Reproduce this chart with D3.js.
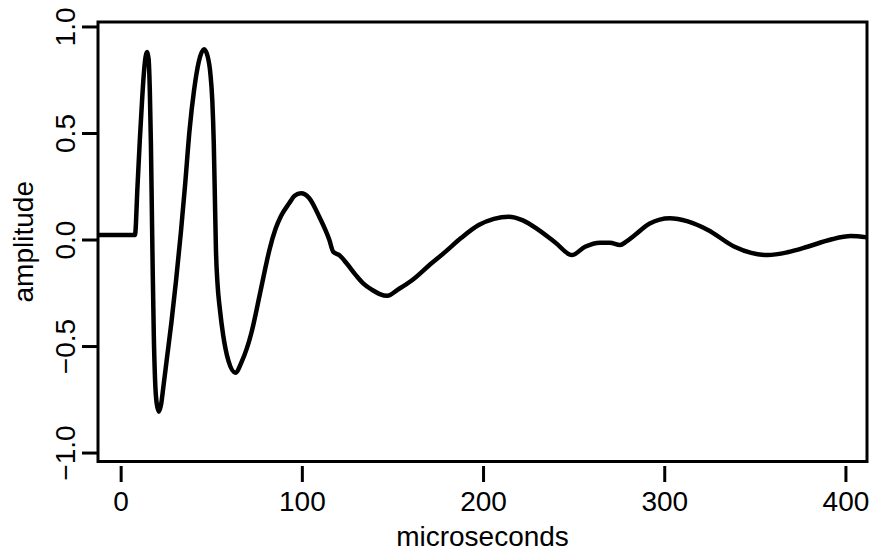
<html>
  <meta charset="utf-8" />
  <script src="https://d3js.org/d3.v7.min.js"></script>
  <style>
    body { margin: 0; background: #fff; }
    text { font-family: "Liberation Sans", Arial, Helvetica, sans-serif; fill: #000; }
  </style>
  <body>
    <svg width="872" height="552" id="svg_wave"></svg>
  </body>
  <script>
    // values
    const timeUs = [
      -12.5, 7.9, 9.3, 10.6, 11.8, 12.9, 13.8, 14.6, 15.4, 16.1, 16.7, 17.2,
      17.7, 18.3, 19.0, 19.9, 21.1, 22.4, 23.6, 25.5, 28, 30.6, 33.2, 35.5,
      38.1, 40.5, 43, 46.0, 48, 49.5, 50.6, 51.4, 52, 52.6, 53.4, 54.8, 56.6,
      59.5, 63.3, 67, 72.1, 76.5, 80, 82.1, 85.5, 88.5, 93, 96, 99.5,
      104, 109.6, 115.1, 117.3, 120.6, 125, 129.8, 134, 138.9, 143, 147.2,
      153, 161, 170, 179.3, 188, 197.6, 206, 214.1, 222, 230.6, 240, 249,
      256.3, 264.6, 270, 275.6, 279, 283.8, 292, 303, 313, 324.1, 338.8, 348,
      357, 368, 379.1, 392, 403, 411.9
    ];
    const amplitude = [
      0.021, 0.021, 0.25, 0.47, 0.65, 0.79, 0.86, 0.88, 0.85, 0.7, 0.45, 0.15,
      -0.15, -0.45, -0.66, -0.77, -0.808, -0.77, -0.69, -0.56, -0.39, -0.19, 0.03, 0.25,
      0.52, 0.7, 0.83, 0.893, 0.86, 0.78, 0.65, 0.45, 0.2, -0.05, -0.2, -0.33, -0.45,
      -0.57, -0.625, -0.57, -0.44, -0.27, -0.128, -0.049, 0.05, 0.11, 0.17, 0.205, 0.217,
      0.195, 0.107, 0.0, -0.057, -0.073, -0.115, -0.167, -0.207, -0.237, -0.256, -0.264,
      -0.235, -0.19, -0.123, -0.057, 0.008, 0.068, 0.097, 0.107, 0.09, 0.045, -0.015, -0.073,
      -0.034, -0.015, -0.015, -0.026, -0.01, 0.021, 0.075, 0.1, 0.085, 0.045, -0.034, -0.063,
      -0.073, -0.06, -0.034, 0.0, 0.016, 0.01
    ];
    const xTicks = [0, 100, 200, 300, 400];
    const yTicks = [-1.0, -0.5, 0.0, 0.5, 1.0];

    const box = { left: 98, right: 867, top: 22, bottom: 461.5 };

    const svg = d3.select("svg");

    const x = d3.scaleLinear().domain([-12.5, 411.9]).range([box.left, box.right]);
    const y = d3.scaleLinear().domain([-1.042, 1.021]).range([box.bottom, box.top]);

    // y axis
    const yAxis = svg
      .append("g")
      .attr("transform", `translate(${box.left},0)`)
      .call(d3.axisLeft(y).tickValues(yTicks).tickSize(16).tickFormat(d3.format(".1f")));
    yAxis.select(".domain").remove();
    yAxis.selectAll("line").attr("stroke", "#000").attr("stroke-width", 3);
    yAxis
      .selectAll("text")
      .attr("transform", "rotate(-90)")
      .attr("x", 0)
      .attr("y", -23)
      .attr("dy", 0)
      .attr("text-anchor", "middle")
      .style("font-size", "28px");

    // x axis (ticks sit a little below the box)
    const xAxis = svg
      .append("g")
      .attr("transform", `translate(0,${box.bottom + 4.5})`)
      .call(d3.axisBottom(x).tickValues(xTicks).tickSize(16));
    xAxis.select(".domain").remove();
    xAxis.selectAll("line").attr("stroke", "#000").attr("stroke-width", 3);
    xAxis
      .selectAll("text")
      .attr("y", 45)
      .attr("dy", 0)
      .style("font-size", "28px");

    // frame
    svg
      .append("rect")
      .attr("x", box.left)
      .attr("y", box.top)
      .attr("width", box.right - box.left)
      .attr("height", box.bottom - box.top)
      .attr("fill", "none")
      .attr("stroke", "#000")
      .attr("stroke-width", 3);

    // waveform
    const line = d3
      .line()
      .x((d, i) => x(timeUs[i]))
      .y((d) => y(d))
      .curve(d3.curveMonotoneX);

    svg
      .append("path")
      .attr("d", line(amplitude))
      .attr("fill", "none")
      .attr("stroke", "#000")
      .attr("stroke-width", 4.5)
      .attr("stroke-linejoin", "round");

    svg
      .append("text")
      .attr("x", (box.left + box.right) / 2)
      .attr("y", 546)
      .attr("text-anchor", "middle")
      .style("font-size", "28px")
      .text("microseconds");

    svg
      .append("text")
      .attr("transform", `translate(33,${(box.top + box.bottom) / 2}) rotate(-90)`)
      .attr("text-anchor", "middle")
      .style("font-size", "28px")
      .text("amplitude");
  </script>
</html>
